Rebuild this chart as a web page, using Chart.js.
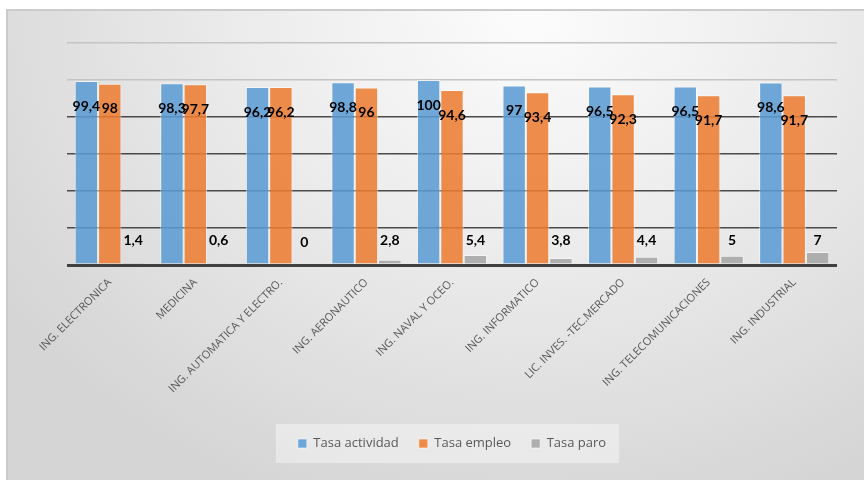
<!DOCTYPE html>
<html>
<head>
<meta charset="utf-8">
<script src="https://cdn.jsdelivr.net/npm/chart.js@4.4.0/dist/chart.umd.min.js"></script>
<style>
    html, body { margin: 0; padding: 0; background: #fff; }
    #wrap { position: relative; width: 864px; height: 480px; overflow: hidden; }
    #bg {
        position: absolute; left: 6px; top: 9px; width: 900px; height: 500px;
        border-left: 2px solid #cbcbcb; border-top: 2px solid #cbcbcb;
        background: radial-gradient(ellipse 70% 105% at 58% 0%, #fcfcfc 0%, #ececec 45%, #d5d5d5 100%);
    }
    #chart { position: absolute; left: 0; top: 0; }
</style>
</head>
<body>
<div id="wrap">
    <div id="bg"></div>
    <canvas id="chart" width="864" height="480"></canvas>
</div>
<script>
// Datos del grafico
const categories = ['ING. ELECTRONICA', 'MEDICINA', 'ING. AUTOMATICA Y ELECTRO.', 'ING. AERONAUTICO',
    'ING. NAVAL Y OCEO.', 'ING. INFORMATICO', 'LIC. INVES. -TEC.MERCADO', 'ING. TELECOMUNICACIONES', 'ING. INDUSTRIAL'];
const tasaActividad = [99.4, 98.3, 96.2, 98.8, 100, 97, 96.5, 96.5, 98.6];
const tasaEmpleo = [98, 97.7, 96.2, 96, 94.6, 93.4, 92.3, 91.7, 91.7];
const tasaParo = [1.4, 0.6, 0, 2.8, 5.4, 3.8, 4.4, 5, 7];
const seriesNames = ['Tasa actividad', 'Tasa empleo', 'Tasa paro'];

const fmt = v => String(v).replace('.', ',');

// fondo de la leyenda
const legendBox = {
    id: 'legendBox',
    beforeDraw(chart) {
        const boxes = chart.legend && chart.legend.legendHitBoxes;
        if (!boxes || !boxes.length) return;
        const left = Math.min(...boxes.map(b => b.left)) - 22;
        const right = Math.max(...boxes.map(b => b.left + b.width)) + 13;
        const top = boxes[0].top - 13;
        const bottom = boxes[0].top + boxes[0].height + 13;
        const ctx = chart.ctx;
        ctx.save();
        ctx.fillStyle = 'rgba(255,255,255,0.4)';
        ctx.fillRect(left, top, right - left, bottom - top);
        ctx.restore();
    }
};

// etiquetas de datos
const dataLabels = {
    id: 'dataLabels',
    afterDatasetsDraw(chart) {
        const ctx = chart.ctx;
        ctx.save();
        ctx.font = 'bold 14px Lato';
        ctx.fillStyle = '#000';
        ctx.textAlign = 'center';
        ctx.textBaseline = 'middle';
        chart.data.datasets.forEach((ds, i) => {
            chart.getDatasetMeta(i).data.forEach((bar, j) => {
                const y = i < 2 ? bar.y + 25 : bar.base - 23;
                ctx.fillText(fmt(ds.data[j]), bar.x, y);
            });
        });
        ctx.restore();
    }
};

new Chart(document.getElementById('chart').getContext('2d'), {
    type: 'bar',
    data: {
        labels: categories,
        datasets: [
            { label: seriesNames[0], data: tasaActividad, backgroundColor: 'rgba(91,155,213,0.87)' },
            { label: seriesNames[1], data: tasaEmpleo, backgroundColor: 'rgba(237,125,49,0.87)' },
            { label: seriesNames[2], data: tasaParo, backgroundColor: 'rgba(165,165,165,0.87)' }
        ]
    },
    options: {
        responsive: false,
        animation: false,
        layout: { padding: { left: 67, right: 27, top: 43, bottom: 20 } },
        datasets: {
            bar: {
                categoryPercentage: 0.82,
                barPercentage: 1,
                borderWidth: 1,
                borderColor: 'rgba(255,255,255,0.55)'
            }
        },
        plugins: {
            legend: {
                position: 'bottom',
                labels: {
                    boxWidth: 9,
                    boxHeight: 9,
                    padding: 20,
                    color: '#595959',
                    font: { family: 'Open Sans', size: 13 }
                }
            },
            tooltip: { enabled: false }
        },
        scales: {
            x: {
                grid: { display: false },
                border: { display: false },
                ticks: {
                    autoSkip: false,
                    minRotation: 45,
                    maxRotation: 45,
                    padding: 3,
                    color: '#595959',
                    font: { family: 'Open Sans', size: 11 }
                },
                afterFit(scale) {
                    const legendH = scale.chart.legend ? scale.chart.legend.height : 0;
                    scale.height = 480 - 20 - legendH - 265;
                }
            },
            y: {
                min: 0,
                max: 120,
                ticks: { display: false, stepSize: 20 },
                border: { display: false },
                grid: {
                    drawTicks: false,
                    color: ctx => ctx.tick.value === 0 ? '#404040' : (ctx.tick.value >= 100 ? '#c4c4c4' : '#4a4a4a'),
                    lineWidth: ctx => ctx.tick.value === 0 ? 3 : 1.5
                },
                afterFit(scale) { scale.width = 0; }
            }
        }
    },
    plugins: [legendBox, dataLabels]
});
</script>
</body>
</html>
